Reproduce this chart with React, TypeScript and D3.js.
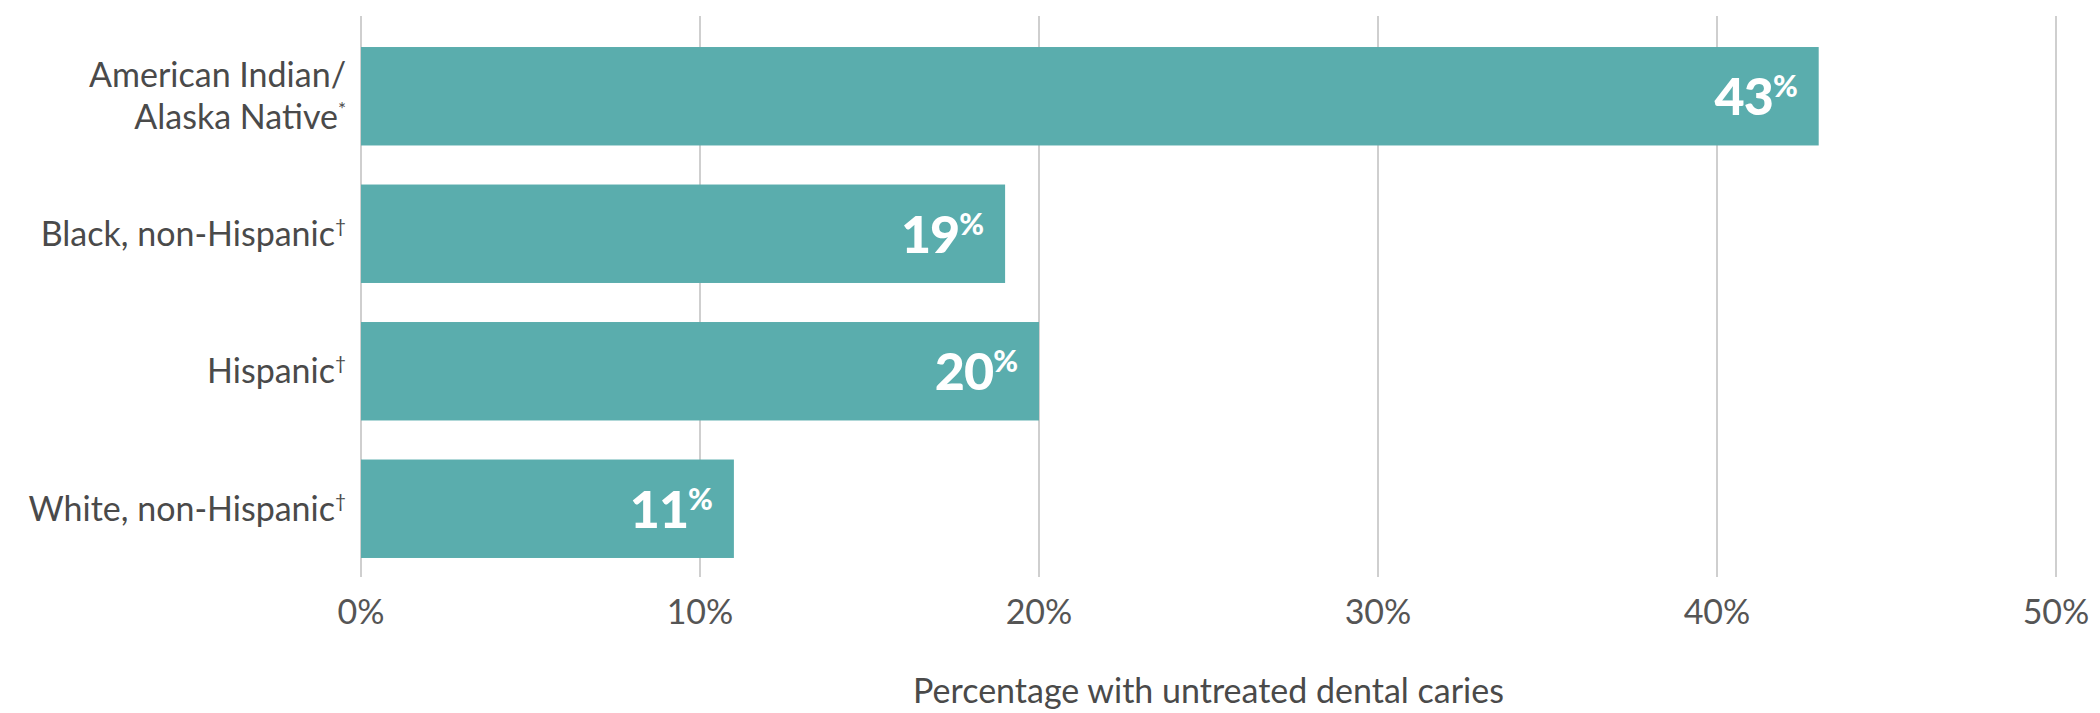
import React from "react";
import * as d3 from "d3";

const categories = ["American Indian/Alaska Native", "Black, non-Hispanic", "Hispanic", "White, non-Hispanic"];
const labelLines: string[][] = [["American Indian/", "Alaska Native"], ["Black, non-Hispanic"], ["Hispanic"], ["White, non-Hispanic"]];
const labelMarks = ["*", "†", "†", "†"];
const values = [43, 19, 20, 11];
const xTicks = [0, 10, 20, 30, 40, 50];
const axisTitle = "Percentage with untreated dental caries";

const W = 2100;
const H = 713;
const FONT = "Lato, 'Noto Sans', sans-serif";

export default function App() {
  const x = d3.scaleLinear().domain([0, 50]).range([361, 2056]);
  const y = d3
    .scaleBand<string>()
    .domain(categories)
    .range([27.5, 577.5])
    .paddingInner(0.284)
    .paddingOuter(0.142);
  const gridTop = 16;
  const gridBottom = 577;
  const bw = y.bandwidth();

  return (
    <svg
      width={W}
      height={H}
      style={{ position: "absolute", left: 0, top: 0, background: "#fff" }}
      fontFamily={FONT}
    >
      {xTicks.map((t) => (
        <line key={"g" + t} x1={x(t)} x2={x(t)} y1={gridTop} y2={gridBottom} stroke="#cfcfcf" strokeWidth={2} />
      ))}
      {categories.map((c, i) => {
        const y0 = y(c)!;
        return (
          <g key={c}>
            <rect x={x(0)} y={y0} width={x(values[i]) - x(0)} height={bw} fill="#5aadad" />
            <text
              x={x(values[i]) - 22}
              y={y0 + bw / 2 + 19}
              textAnchor="end"
              fill="#fff"
              fontWeight={900}
              fontSize={52}
              letterSpacing={-1}
            >
              {values[i]}
              <tspan fontSize={30} dy={-18}>%</tspan>
            </text>
          </g>
        );
      })}
      {categories.map((c, i) => {
        const lines = labelLines[i];
        const cy = y(c)! + bw / 2;
        const lh = 42;
        const startY = cy - ((lines.length - 1) * lh) / 2 + 12;
        return (
          <text key={"l" + c} textAnchor="end" fill="#4a4a4a" fontSize={34}>
            {lines.map((ln, j) => (
              <tspan key={j} x={346} y={startY + j * lh}>
                {ln}
                {j === lines.length - 1 ? (
                  <tspan fontSize={19} dy={-13}>{labelMarks[i]}</tspan>
                ) : null}
              </tspan>
            ))}
          </text>
        );
      })}
      {xTicks.map((t) => (
        <text key={"t" + t} x={x(t)} y={624} textAnchor="middle" fill="#555" fontSize={34}>
          {t + "%"}
        </text>
      ))}
      <text x={(x(0) + x(50)) / 2} y={703} textAnchor="middle" fill="#4a4a4a" fontSize={34}>
        {axisTitle}
      </text>
    </svg>
  );
}
